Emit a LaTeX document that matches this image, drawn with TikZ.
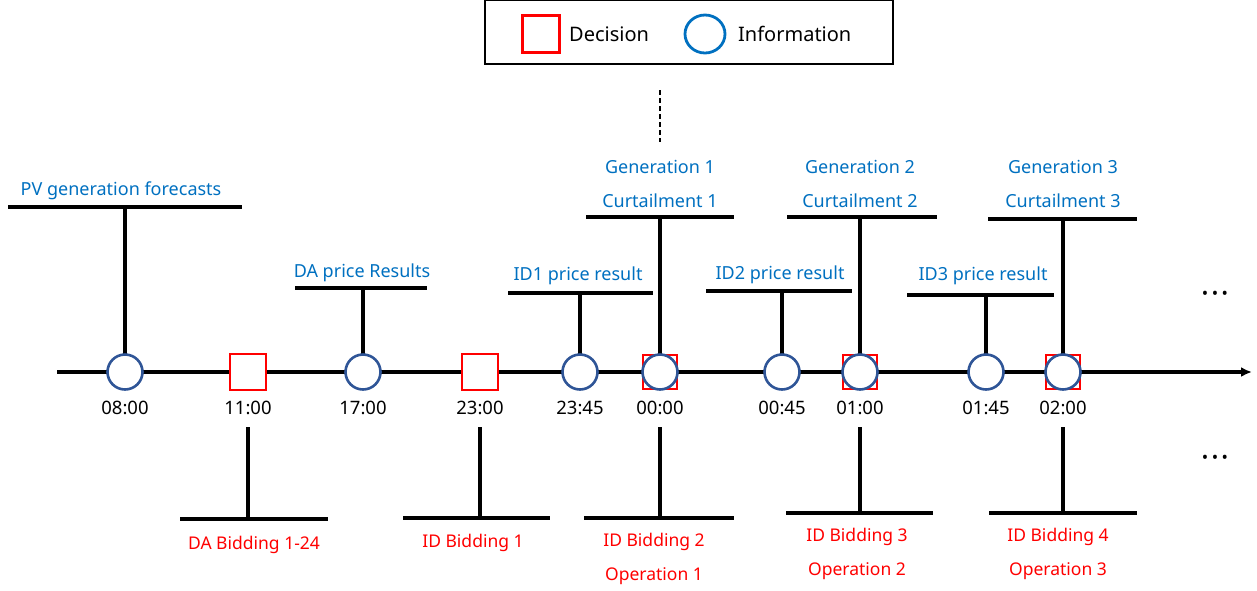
\documentclass[tikz,border=0pt]{standalone}
\usepackage{fontspec}
\setmainfont{Noto Sans}
\usetikzlibrary{arrows.meta,shapes.geometric}
\definecolor{infoblue}{RGB}{0,112,192}
\definecolor{ringblue}{RGB}{47,85,151}
\definecolor{decred}{RGB}{255,0,0}
\newcommand{\moredots}{\textbullet\hspace{3.5pt}\textbullet\hspace{3.5pt}\textbullet}
\begin{document}
\begin{tikzpicture}[x=1pt,y=-1pt,
  bar/.style={line width=3.2pt,black},
  infoc/.style={circle,draw=ringblue,line width=2.6pt,fill=white,minimum size=35pt,inner sep=0pt},
  decsq/.style={rectangle,draw=decred,line width=2.6pt,fill=white,minimum size=36pt,inner sep=0pt},
  decsqs/.style={rectangle,draw=decred,line width=2.6pt,fill=white,minimum size=34pt,inner sep=0pt},
  tlabel/.style={font=\fontsize{18.5}{22}\selectfont,text=black},
  blabel/.style={font=\fontsize{18}{22}\selectfont,text=infoblue},
  rlabel/.style={font=\fontsize{17.5}{21}\selectfont,text=decred},
  leg/.style={font=\fontsize{20}{24}\selectfont,text=black,anchor=west,inner sep=0pt},
  dotsl/.style={font=\fontsize{17}{19}\selectfont,inner sep=0pt}]
\useasboundingbox (0,0) rectangle (1257,590);

% legend
\node[draw=black,line width=2.2pt,minimum width=408pt,minimum height=64pt] (legend) at (689,32) {};
\node[rectangle,draw=decred,line width=2.4pt,minimum size=37pt,inner sep=0pt] (legdec) at (541,34) {};
\node[leg] (legdect) at (569,34) {Decision};
\node[ellipse,draw=infoblue,line width=2.8pt,minimum width=40pt,minimum height=38pt,inner sep=0pt] (leginf) at (705,34) {};
\node[leg] (leginft) at (738,34) {Information};

% dashed continuation
\coordinate (dtop) at (660,90);
\coordinate (dbot) at (660,142);
\draw[line width=2.6pt,dash pattern=on 5pt off 3pt] (dtop) -- (dbot);

% timeline axis
\coordinate (axs) at (57,372);
\coordinate (axe) at (1252,372);
\draw[bar,-{Latex[length=11pt,width=10pt]}] (axs) -- (axe);

% upper stubs (information)
\foreach \x/\y/\l/\r/\n in {125/207/8/242/a, 363/288/295/427/b, 580/293/508/653/c, 660/217/586/734/d,
                            782/291/706/852/e, 860/217/787/937/f, 986/295/907/1054/g, 1063/219/988/1137/h}{
  \coordinate (u\n) at (\x,\y);
  \coordinate (ul\n) at (\l,\y);
  \coordinate (ur\n) at (\r,\y);
  \coordinate (ub\n) at (\x,372);
  \draw[bar] (ul\n) -- (ur\n);
  \draw[bar] (u\n) -- (ub\n);
}

% lower stubs (decisions)
\foreach \x/\y/\l/\r/\n in {248/519/180/328/p, 480/518/403/550/q, 660/518/584/734/r, 860/513/786/933/s, 1063/513/989/1137/t}{
  \coordinate (d\n) at (\x,\y);
  \coordinate (dl\n) at (\l,\y);
  \coordinate (dr\n) at (\r,\y);
  \coordinate (dt\n) at (\x,427);
  \draw[bar] (dl\n) -- (dr\n);
  \draw[bar] (dt\n) -- (d\n);
}

% event markers on the axis
\node[infoc] (t0800) at (125,372) {};
\node[decsq] (t1100) at (248,372) {};
\node[infoc] (t1700) at (363,372) {};
\node[decsq] (t2300) at (480,372) {};
\node[infoc] (t2345) at (580,372) {};
\node[decsqs] (s0000) at (660,372) {};
\node[infoc] (t0000) at (660,372) {};
\node[infoc] (t0045) at (782,372) {};
\node[decsqs] (s0100) at (860,372) {};
\node[infoc] (t0100) at (860,372) {};
\node[infoc] (t0145) at (986,372) {};
\node[decsqs] (s0200) at (1063,372) {};
\node[infoc] (t0200) at (1063,372) {};

% times
\foreach \x/\t/\n in {125/08:00/a, 248/11:00/b, 363/17:00/c, 480/23:00/d, 580/23:45/e, 660/00:00/f,
                      782/00:45/g, 860/01:00/h, 986/01:45/i, 1063/02:00/j}{
  \node[tlabel] (tl\n) at (\x,408) {\t};
}

% information labels
\node[blabel] (lpv) at (121,191) {PV generation forecasts};
\node[blabel] (lda) at (362,273) {DA price Results};
\node[blabel] (lid1) at (578,276) {ID1 price result};
\node[blabel] (lg1) at (660,167) {Generation 1};
\node[blabel] (lc1) at (660,201) {Curtailment 1};
\node[blabel] (lid2) at (780,275) {ID2 price result};
\node[blabel] (lg2) at (860,167) {Generation 2};
\node[blabel] (lc2) at (860,201) {Curtailment 2};
\node[blabel] (lid3) at (983,276) {ID3 price result};
\node[blabel] (lg3) at (1063,167) {Generation 3};
\node[blabel] (lc3) at (1063,201) {Curtailment 3};

% decision labels
\node[rlabel] (lbda) at (254,545) {DA Bidding 1-24};
\node[rlabel] (lbi1) at (473,543) {ID Bidding 1};
\node[rlabel] (lbi2) at (654,542) {ID Bidding 2};
\node[rlabel] (lop1) at (654,576) {Operation 1};
\node[rlabel] (lbi3) at (857,537) {ID Bidding 3};
\node[rlabel] (lop2) at (857,571) {Operation 2};
\node[rlabel] (lbi4) at (1058,537) {ID Bidding 4};
\node[rlabel] (lop3) at (1058,571) {Operation 3};

% continuation dots
\node[dotsl] (dots1) at (1215,295) {\moredots};
\node[dotsl] (dots2) at (1215,459) {\moredots};
\end{tikzpicture}
\end{document}
